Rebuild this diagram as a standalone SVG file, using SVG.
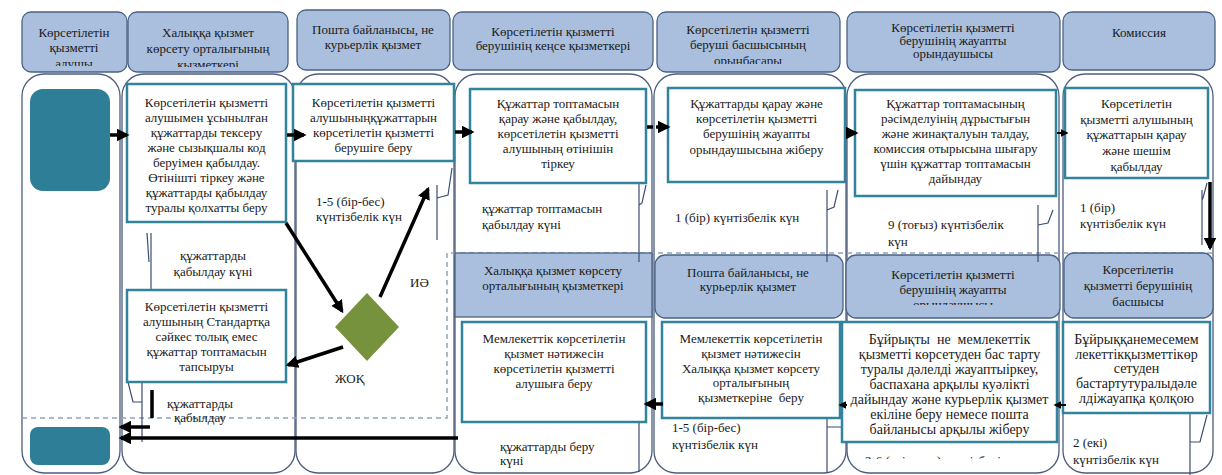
<svg xmlns="http://www.w3.org/2000/svg" width="1222" height="475" viewBox="0 0 1222 475">
<style>
text{font-family:"Liberation Serif","Times New Roman",serif;font-size:13px;fill:#1a1a1a}
.c{text-anchor:middle}
.big{font-size:14px}
.hdr{fill:#a9bfdd;stroke:#4a6285;stroke-width:1.3}
.lane{fill:#fff;stroke:#4d5d7c;stroke-width:1.3}
.box{fill:#fff;stroke:#31849b;stroke-width:2.5}
.term{fill:#2f7e97}
.arr{stroke:#000;stroke-width:3.5;fill:none;marker-end:url(#ah)}
.sarr{stroke:#000;stroke-width:2;fill:none;marker-end:url(#ahs)}
.thin{stroke:#3c4f72;stroke-width:1.2;fill:none}
.dash{stroke:#8ea3bb;stroke-width:1.5;stroke-dasharray:5 4;fill:none}
</style>
<defs>
<marker id="ah" viewBox="0 0 10 10" refX="8" refY="5" markerWidth="3.6" markerHeight="3.6" orient="auto"><path d="M0,0 L10,5 L0,10 z" fill="#000"/></marker>
<marker id="ahs" viewBox="0 0 10 10" refX="8" refY="5" markerWidth="4" markerHeight="4" orient="auto"><path d="M0,0 L10,5 L0,10 z" fill="#000"/></marker>
<clipPath id="ch1"><rect x="22" y="12" width="105" height="54"/></clipPath>
<clipPath id="ch2"><rect x="128" y="12" width="160" height="55"/></clipPath>
<clipPath id="ch5"><rect x="657" y="12" width="183" height="52"/></clipPath>
<clipPath id="ch6"><rect x="847" y="12" width="213" height="58"/></clipPath>
<clipPath id="cl6"><rect x="846" y="255" width="214" height="50"/></clipPath>
<clipPath id="cbt"><rect x="840" y="440" width="220" height="19"/></clipPath>
</defs>

<!-- lanes -->
<g id="lanes">
<rect class="lane" x="22" y="74" width="98" height="399" rx="22"/>
<rect class="lane" x="122" y="74" width="173" height="399" rx="22"/>
<rect class="lane" x="296" y="74" width="158" height="399" rx="22"/>
<rect class="lane" x="455" y="74" width="197" height="399" rx="22"/>
<rect class="lane" x="654" y="74" width="192" height="399" rx="22"/>
<rect class="lane" x="847" y="74" width="212" height="399" rx="22"/>
<rect class="lane" x="1063" y="74" width="150" height="399" rx="22"/>
</g>

<!-- dashed separator -->
<path class="dash" d="M22,418 H447 V253 H1213"/>

<!-- headers -->
<g id="h1"><rect class="hdr" x="22" y="12" width="105" height="60" rx="9"/>
<g clip-path="url(#ch1)"><text class="c" x="74" y="37">Көрсетілетін</text><text class="c" x="74" y="52">қызметті</text><text class="c" x="74" y="68">алушы</text></g></g>
<g id="h2"><rect class="hdr" x="128" y="12" width="160" height="60" rx="9"/>
<g clip-path="url(#ch2)"><text class="c" x="208" y="37">Халыққа қызмет</text><text class="c" x="208" y="53">көрсету орталығының</text><text class="c" x="208" y="69">қызметкері</text></g></g>
<g id="h3"><rect class="hdr" x="297" y="10" width="153" height="60" rx="9"/>
<text class="c" x="373" y="34">Пошта байланысы, не</text><text class="c" x="373" y="49">курьерлік қызмет</text></g>
<g id="h4"><rect class="hdr" x="453" y="12" width="200" height="58" rx="9"/>
<text class="c" x="553" y="36">Көрсетілетін қызметті</text><text class="c" x="553" y="50">берушінің кеңсе қызметкері</text></g>
<g id="h5"><rect class="hdr" x="657" y="12" width="183" height="60" rx="9"/>
<g clip-path="url(#ch5)"><text class="c" x="748" y="34">Көрсетілетін қызметті</text><text class="c" x="748" y="49">беруші басшысының</text><text class="c" x="748" y="65">орынбасары</text></g></g>
<g id="h6"><rect class="hdr" x="847" y="12" width="213" height="60" rx="9"/>
<g clip-path="url(#ch6)"><text class="c" x="953" y="32">Көрсетілетін қызметті</text><text class="c" x="953" y="45">берушінің жауапты</text><text class="c" x="953" y="58">орындаушысы</text></g></g>
<g id="h7"><rect class="hdr" x="1063" y="12" width="152" height="58" rx="9"/>
<text class="c" x="1139" y="37">Комиссия</text></g>

<!-- lower headers -->
<g id="lh4"><rect class="hdr" x="455" y="253" width="197" height="64"/>
<text class="c" x="553" y="275">Халыққа қызмет көрсету</text><text class="c" x="553" y="290">орталығының қызметкері</text></g>
<g id="lh5"><rect class="hdr" x="655" y="255" width="188" height="63" rx="10"/>
<text class="c" x="748" y="277">Пошта байланысы, не</text><text class="c" x="748" y="291">курьерлік қызмет</text></g>
<g id="lh6"><rect class="hdr" x="846" y="255" width="214" height="63" rx="10"/>
<g clip-path="url(#cl6)"><text class="c" x="953" y="279">Көрсетілетін қызметті</text><text class="c" x="953" y="294">берушінің жауапты</text><text class="c" x="953" y="309">орындаушысы</text></g></g>
<g id="lh7"><rect class="hdr" x="1064" y="253" width="149" height="65" rx="10"/>
<text class="c" x="1138" y="274">Көрсетілетін</text><text class="c" x="1138" y="290">қызметті берушінің</text><text class="c" x="1138" y="306">басшысы</text></g>

<!-- annotation brackets -->
<g id="brackets">
<path class="thin" d="M151,233 V293 M147,233 L149,262"/>
<path class="thin" d="M128,382 L133,402 H142 M142,382 V442"/>
<path class="thin" d="M452,168 L448,195 L437,198 M437,185 V240"/>
<path class="thin" d="M646,185 L642,203 L639,205 M639,183 V262 M639,413 V472"/>
<path class="thin" d="M838,190 L834,207 L827,210 M827,190 V262 M827,397 V473 M827,427 H842"/>
<path class="thin" d="M1053,210 L1048,223 L1038,225 M1038,205 V262"/>
<path class="thin" d="M1207,183 L1203,198 L1202,200 M1202,190 V245"/>
<path class="thin" d="M1207,415 L1200,442 H1190 M1190,413 V475"/>
</g>

<!-- start / end -->
<g id="start"><rect class="term" x="30" y="89" width="80" height="102" rx="13"/></g>
<g id="end"><rect class="term" x="30" y="427" width="80" height="38" rx="8"/></g>

<!-- process boxes -->
<g id="b1"><rect class="box" x="127" y="84" width="159" height="138"/>
<text class="c" x="206.5" y="107">Көрсетілетін қызметті</text>
<text class="c" x="206.5" y="122">алушымен ұсынылған</text>
<text class="c" x="206.5" y="137">құжаттарды тексеру</text>
<text class="c" x="206.5" y="152">және сызықшалы код</text>
<text class="c" x="206.5" y="167">беруімен қабылдау.</text>
<text class="c" x="206.5" y="182">Өтінішті тіркеу және</text>
<text class="c" x="206.5" y="197">құжаттарды қабылдау</text>
<text class="c" x="206.5" y="212">туралы қолхатты беру</text></g>

<g id="b2"><rect class="box" x="293" y="84" width="161" height="77"/>
<text class="c" x="373.5" y="107">Көрсетілетін қызметті</text>
<text class="c" x="373.5" y="122">алушыныңқұжаттарын</text>
<text class="c" x="373.5" y="137">көрсетілетін қызметті</text>
<text class="c" x="373.5" y="152">берушіге беру</text></g>

<g id="b3"><rect class="box" x="470" y="89" width="176" height="94"/>
<text class="c" x="558" y="108">Құжаттар топтамасын</text>
<text class="c" x="558" y="123">қарау және қабылдау,</text>
<text class="c" x="558" y="138">көрсетілетін қызметті</text>
<text class="c" x="558" y="153">алушының өтінішін</text>
<text class="c" x="558" y="168">тіркеу</text></g>

<g id="b4"><rect class="box" x="668" y="88" width="177" height="94"/>
<text class="c" x="756.5" y="108">Құжаттарды қарау және</text>
<text class="c" x="756.5" y="123">көрсетілетін қызметті</text>
<text class="c" x="756.5" y="138">берушінің жауапты</text>
<text class="c" x="756.5" y="154">орындаушысына жіберу</text></g>

<g id="b5"><rect class="box" x="855" y="90" width="201" height="106"/>
<text class="c" x="955.5" y="108">Құжаттар топтамасының</text>
<text class="c" x="955.5" y="123">рәсімделуінің дұрыстығын</text>
<text class="c" x="955.5" y="138">және жинақталуын талдау,</text>
<text class="c" x="955.5" y="153">комиссия отырысына шығару</text>
<text class="c" x="955.5" y="168">үшін құжаттар топтамасын</text>
<text class="c" x="955.5" y="183">дайындау</text></g>

<g id="b6"><rect class="box" x="1065" y="88" width="143" height="90"/>
<text class="c" x="1136.5" y="108">Көрсетілетін</text>
<text class="c" x="1136.5" y="124">қызметті алушының</text>
<text class="c" x="1136.5" y="139">құжаттарын қарау</text>
<text class="c" x="1136.5" y="155">және шешім</text>
<text class="c" x="1136.5" y="171">қабылдау</text></g>

<g id="b7"><rect class="box" x="127" y="290" width="159" height="92"/>
<text class="c" x="206.5" y="311">Көрсетілетін қызметті</text>
<text class="c" x="206.5" y="326">алушының Стандартқа</text>
<text class="c" x="206.5" y="341">сәйкес толық емес</text>
<text class="c" x="206.5" y="356">құжаттар топтамасын</text>
<text class="c" x="206.5" y="371">тапсыруы</text></g>

<g id="b8"><rect class="box" x="462" y="322" width="184" height="100"/>
<text class="c" x="554" y="343">Мемлекеттік көрсетілетін</text>
<text class="c" x="554" y="358">қызмет нәтижесін</text>
<text class="c" x="554" y="373">көрсетілетін қызметті</text>
<text class="c" x="554" y="388">алушыға беру</text></g>

<g id="b9"><rect class="box" x="662" y="322" width="178" height="96"/>
<text class="c" x="751" y="343">Мемлекеттік көрсетілетін</text>
<text class="c" x="751" y="358">қызмет нәтижесін</text>
<text class="c" x="751" y="373">Халыққа қызмет көрсету</text>
<text class="c" x="751" y="387">орталығының</text>
<text class="c" x="751" y="402" xml:space="preserve">қызметкеріне  беру</text></g>

<g id="b10"><rect class="box" x="842" y="322" width="215" height="120"/>
<text class="c big" x="949.5" y="344" xml:space="preserve">Бұйрықты  не  мемлекеттік</text>
<text class="c big" x="949.5" y="359">қызметті көрсетуден бас тарту</text>
<text class="c big" x="949.5" y="374">туралы дәлелді жауаптыіркеу,</text>
<text class="c big" x="949.5" y="389">баспахана арқылы куәлікті</text>
<text class="c big" x="949.5" y="404">дайындау және курьерлік қызмет</text>
<text class="c big" x="949.5" y="419">екіліне беру немесе пошта</text>
<text class="c big" x="949.5" y="434">байланысы арқылы жіберу</text></g>

<g id="b11"><rect class="box" x="1063" y="322" width="147" height="91"/>
<text class="c big" x="1136.5" y="344">Бұйрыққанемесемем</text>
<text class="c big" x="1136.5" y="359">лекеттікқызметтікөр</text>
<text class="c big" x="1136.5" y="373">сетуден</text>
<text class="c big" x="1136.5" y="388">бастартутуралыдәле</text>
<text class="c big" x="1136.5" y="403">лдіжауапқа қолқою</text></g>

<g id="decision"><polygon points="367,293 399,327 367,361 335,327" fill="#76923c"/></g>

<!-- connectors -->
<g id="connectors">
<line class="arr" x1="110" y1="135" x2="127" y2="135"/>
<line class="arr" x1="287" y1="135" x2="304" y2="135"/>
<line class="arr" x1="455" y1="132" x2="472" y2="132"/>
<line class="arr" x1="647" y1="127" x2="668" y2="127" stroke-dasharray="6 3"/>
<line class="arr" x1="846" y1="133" x2="856" y2="133"/>
<line class="sarr" x1="1057" y1="133" x2="1067" y2="133"/>
<line class="arr" x1="1210" y1="182" x2="1210" y2="248"/>
<line class="sarr" x1="1066" y1="405" x2="1055" y2="405"/>
<line class="sarr" x1="847" y1="405" x2="840" y2="405"/>
<line class="arr" x1="663" y1="404" x2="646" y2="404"/>
<line class="arr" x1="458" y1="438" x2="121" y2="438"/>
<line class="arr" x1="150" y1="427" x2="121" y2="427"/>
<line stroke="#000" stroke-width="3.5" x1="152" y1="390" x2="152" y2="418"/>
<line class="arr" x1="286" y1="223" x2="342" y2="311"/>
<line class="arr" x1="380" y1="297" x2="428" y2="189"/>
<line class="arr" x1="343" y1="347" x2="288" y2="365"/>
</g>

<!-- labels -->
<g id="labels">
<text x="316" y="206">1-5 (бір-бес)</text>
<text x="316" y="221">күнтізбелік күн</text>
<text x="410" y="287">ИӘ</text>
<text x="335" y="383">ЖОҚ</text>
<text class="c" x="213" y="260">құжаттарды</text>
<text class="c" x="213" y="276">қабылдау күні</text>
<text class="c" x="200" y="408">құжаттарды</text>
<text class="c" x="200" y="422">қабылдау</text>
<text x="482" y="213">құжаттар топтамасын</text>
<text x="482" y="229">қабылдау күні</text>
<text x="675" y="222">1 (бір) күнтізбелік күн</text>
<text x="888" y="229">9 (тоғыз) күнтізбелік</text>
<text x="888" y="246">күн</text>
<text x="1080" y="212">1 (бір)</text>
<text x="1080" y="228">күнтізбелік күн</text>
<text x="500" y="451">құжаттарды беру</text>
<text x="500" y="465">күні</text>
<text x="672" y="432">1-5 (бір-бес)</text>
<text x="672" y="449">күнтізбелік күн</text>
<g clip-path="url(#cbt)"><text x="865" y="465">2-6 (екі-алты) күнтізбелік күн</text></g>
<text x="1073" y="447">2 (екі)</text>
<text x="1073" y="464">күнтізбелік күн</text>
</g>
</svg>
